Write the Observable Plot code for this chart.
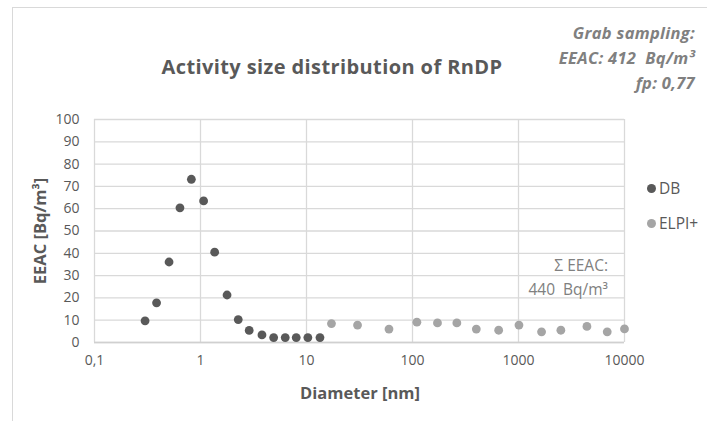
<!DOCTYPE html>
<html>
<head>
<meta charset="utf-8">
<script src="https://cdn.jsdelivr.net/npm/d3@7"></script>
<script src="https://cdn.jsdelivr.net/npm/@observablehq/plot@0.6"></script>
<style>
  html, body { margin: 0; padding: 0; background: #fff; }
  #wrap { position: relative; width: 707px; height: 421px; overflow: hidden; font-family: "Open Sans", sans-serif; color: #595959; }
  #wrap svg { position: absolute; left: 0; top: 0; }
  .border { position: absolute; left: 12px; top: 7px; width: 700px; height: 430px; border-left: 1.5px solid #d9d9d9; border-top: 1.5px solid #d9d9d9; }
  .title { position: absolute; left: 0; width: 664px; top: 53px; text-align: center; font-size: 20px; font-weight: 700; letter-spacing: 0.4px; color: #595959; white-space: nowrap; line-height: 28px; }
  .grab { position: absolute; right: 12px; top: 21px; text-align: right; font-size: 16.5px; font-weight: 700; font-style: italic; color: #808080; line-height: 24.8px; white-space: nowrap; letter-spacing: 0.3px; }
  .sum { position: absolute; right: 99px; top: 254px; text-align: right; font-size: 15.5px; color: #808080; line-height: 23.5px; white-space: nowrap; }
  .leg { position: absolute; left: 647px; font-size: 15.5px; color: #595959; white-space: nowrap; line-height: 20px; }
  .leg span.d { display: inline-block; width: 9px; height: 9px; border-radius: 50%; margin-right: 3px; vertical-align: 1px; }
  .xl { position: absolute; left: 260px; width: 200px; top: 380px; text-align: center; font-size: 16.5px; font-weight: 700; line-height: 26px; color: #595959; white-space: nowrap; }
  .yl { position: absolute; left: -60px; width: 200px; top: 218px; text-align: center; font-size: 16.5px; font-weight: 700; line-height: 26px; color: #595959; white-space: nowrap; transform: rotate(-90deg); }
</style>
</head>
<body>
<div id="wrap">
  <div class="border"></div>
</div>
<script>
// ---- data ----
const dbDiameter = [0.30, 0.385, 0.505, 0.64, 0.82, 1.07, 1.36, 1.78, 2.27, 2.88, 3.8, 4.9, 6.3, 8.0, 10.3, 13.4];
const dbEEAC     = [9.7, 17.8, 36.1, 60.4, 73.2, 63.5, 40.5, 21.3, 10.3, 5.4, 3.4, 2.2, 2.2, 2.2, 2.2, 2.2];
const elpiDiameter = [17.2, 30.3, 60, 110, 172, 262, 400, 650, 1010, 1650, 2510, 4420, 6870, 10000];
const elpiEEAC     = [8.5, 7.8, 6.0, 9.1, 8.8, 8.8, 6.0, 5.5, 7.8, 4.8, 5.5, 7.2, 4.8, 6.1];
const xTicks = [0.1, 1, 10, 100, 1000, 10000];
const yTicks = [0, 10, 20, 30, 40, 50, 60, 70, 80, 90, 100];
const seriesNames = ["DB", "ELPI+"];
const seriesColors = ["#595959", "#a5a5a5"];
const titleText = "Activity size distribution of RnDP";
const grabLines = ["Grab sampling:", "EEAC: 412\u00a0 Bq/m\u00b3", "fp: 0,77"];
const sumLines = ["\u03a3 EEAC:", "440\u00a0 Bq/m\u00b3"];
const xLabel = "Diameter [nm]";
const yLabel = "EEAC [Bq/m\u00b3]";

const db = dbDiameter.map((d, i) => ({d, v: dbEEAC[i], s: seriesNames[0]}));
const elpi = elpiDiameter.map((d, i) => ({d, v: elpiEEAC[i], s: seriesNames[1]}));

const chart = Plot.plot({
  width: 707,
  height: 421,
  marginLeft: 94,
  marginRight: 83,
  marginTop: 119,
  marginBottom: 79,
  style: {fontFamily: "'Open Sans', sans-serif", fontSize: "14px", color: "#595959", background: "transparent", overflow: "visible"},
  x: {type: "log", domain: [0.1, 10000], ticks: xTicks, tickFormat: d => String(d).replace(".", ","), tickSize: 0, tickPadding: 13, label: null},
  y: {domain: [0, 100], ticks: yTicks, tickSize: 0, tickPadding: 15, label: null},
  color: {domain: seriesNames, range: seriesColors},
  marks: [
    Plot.ruleY(yTicks, {stroke: "#d9d9d9", strokeWidth: 1.3}),
    Plot.ruleX(xTicks, {stroke: "#d9d9d9", strokeWidth: 1.3}),
    Plot.ruleY([0], {stroke: "#d0d0d0", strokeWidth: 1.5}),
    Plot.dot(db, {x: "d", y: "v", fill: "s", r: 4.4}),
    Plot.dot(elpi, {x: "d", y: "v", fill: "s", r: 4.4})
  ]
});
const wrap = document.getElementById("wrap");
wrap.appendChild(chart);

function addDiv(cls, html) {
  const el = document.createElement("div");
  el.className = cls; el.innerHTML = html; wrap.appendChild(el);
  return el;
}
addDiv("title", titleText);
addDiv("grab", grabLines.join("<br>"));
addDiv("sum", sumLines.join("<br>"));
addDiv("xl", xLabel);
addDiv("yl", yLabel);

seriesNames.forEach((n, i) => {
  const l = addDiv("leg", `<span class="d" style="background:${seriesColors[i]}"></span>${n}`);
  l.style.top = (178 + i * 35) + "px";
});
</script>
</body>
</html>
